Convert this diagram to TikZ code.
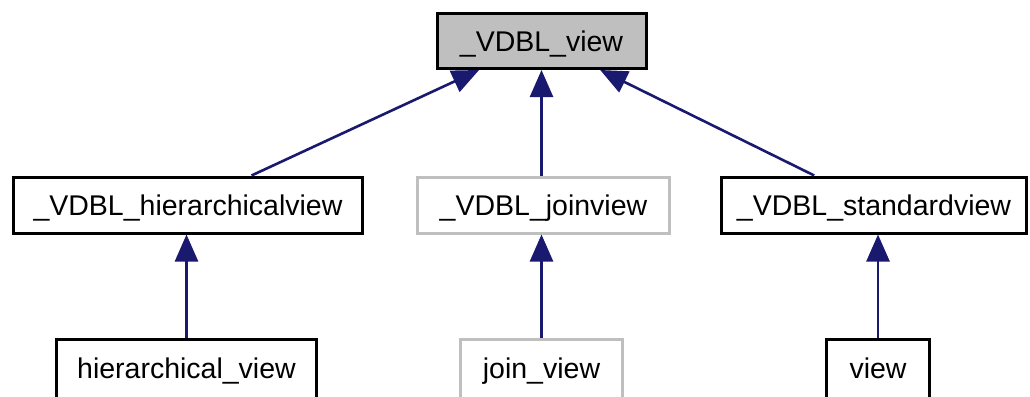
\documentclass[tikz,border=0pt]{standalone}
\usepackage{fontspec}
\setmainfont{Liberation Sans}
\usetikzlibrary{arrows.meta}
\definecolor{edgeblue}{RGB}{25,25,112}
\definecolor{boxgray}{RGB}{191,191,191}
\tikzset{
  cls/.style={draw=black,line width=3pt,minimum height=56pt,inner sep=0pt,
    font=\fontsize{28.5}{34}\selectfont,text height=20.4pt,text depth=0pt},
  ghost/.style={cls,draw=boxgray},
  leaf/.style={minimum height=62pt,text depth=5pt},
  link/.style={edgeblue,line width=2.6pt,-{Triangle[width=23pt,length=27pt]}}
}
\begin{document}
\begin{tikzpicture}[x=1pt,y=-1pt]
    \useasboundingbox (0,0) rectangle (1030,396);
    % base class
    \node[cls,fill=boxgray,minimum width=209pt,minimum height=55pt] (vdblview) at (541.5,41) {\_VDBL\_view};
    % middle row
    \node[cls,minimum width=349pt] (hierview) at (188,205) {\_VDBL\_hierarchicalview};
    \node[ghost,minimum width=252pt] (joinview) at (543.5,205) {\_VDBL\_joinview};
    \node[cls,minimum width=305pt] (stdview) at (874,205) {\_VDBL\_standardview};
    % bottom row, cut off by the page edge
    \node[cls,leaf,minimum width=260pt] (hierarchicalview) at (186.5,370.5) {hierarchical\_view};
    \node[ghost,leaf,minimum width=162pt] (joinview2) at (541.5,370.5) {join\_view};
    \node[cls,leaf,minimum width=103pt] (view) at (878,370.5) {view};
    % inheritance
    \draw[link] (hierview) -- (vdblview);
    \draw[link] (vdblview.south |- joinview.north) -- (vdblview.south);
    \draw[link] (stdview) -- (vdblview);
    \draw[link] (hierarchicalview.north) -- (hierarchicalview.north |- hierview.south);
    \draw[link] (joinview2.north) -- (joinview2.north |- joinview.south);
    \draw[link] (view.north) -- (view.north |- stdview.south);
\end{tikzpicture}
\end{document}
